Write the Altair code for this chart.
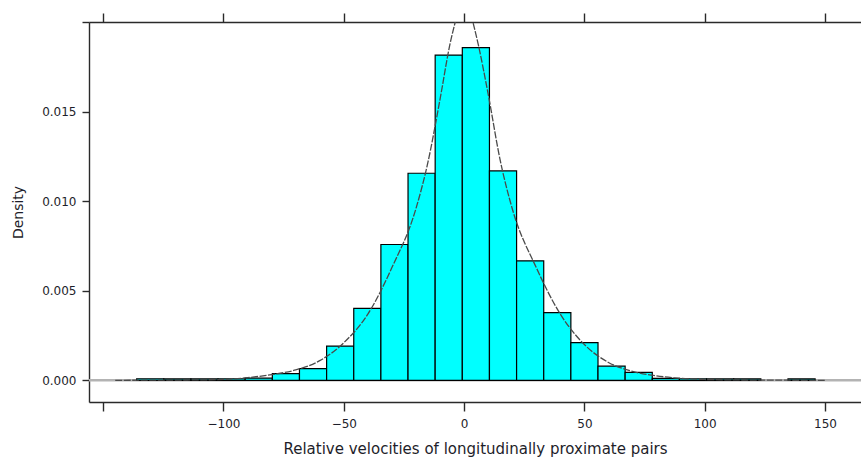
import altair as alt
import pandas as pd

# Histogram (density scale) of relative velocities: equal-width bins
bin_start = -136.1
bin_width = 11.28
bin_density = [
    0.00009, 0.00008, 0.00008, 0.00009, 0.00012,
    0.00037, 0.00066, 0.00191, 0.00402, 0.00759,
    0.01157, 0.01817, 0.01859, 0.01170, 0.00668,
    0.00378, 0.00211, 0.00079, 0.00044, 0.00011,
    0.00009, 0.00008, 0.00008, 0.0, 0.00008,
]

# Smooth density curve overlaid on the histogram
curve_x = [-145, -130, -115, -100, -90, -80, -70, -60, -50, -40, -30, -20,
           -15, -10, -6, -3, 0, 3, 6, 10, 15, 20, 30, 40, 50, 60, 70, 80,
           90, 100, 115, 130, 150]
curve_y = [0.0, 0.00001, 0.00002, 0.00005, 0.00015, 0.00032, 0.00058,
           0.0011, 0.0021, 0.0037, 0.0063, 0.0096, 0.0122, 0.0157, 0.0187,
           0.0204, 0.0222, 0.0204, 0.0187, 0.0160, 0.0123, 0.0096, 0.0063,
           0.0037, 0.0020, 0.0010, 0.0005, 0.00025, 0.00011, 0.00005,
           0.00002, 0.00001, 0.0]

x_ticks = [-150, -100, -50, 0, 50, 100, 150]
y_ticks = [0.0, 0.005, 0.010, 0.015, 0.020]

bars = pd.DataFrame({
    "lo": [bin_start + i * bin_width for i in range(len(bin_density))],
    "hi": [bin_start + (i + 1) * bin_width for i in range(len(bin_density))],
    "density": bin_density,
})
bars = bars[bars["density"] > 0]
curve = pd.DataFrame({"x": curve_x, "y": curve_y})

FONT = "DejaVu Sans"
FRAME = "#2a2a2a"
TEXT = "#1e1e2a"

x_scale = alt.Scale(domain=[-155.9, 164.97], nice=False, zero=False)
y_scale = alt.Scale(domain=[-0.00121, 0.02002], nice=False, zero=False)

axis_common = dict(
    grid=False, domainColor=FRAME, domainWidth=1.4, tickColor=FRAME,
    tickWidth=1.4, labelFont=FONT, labelFontSize=12, labelColor=TEXT,
    titleFont=FONT, titleColor=TEXT, titleFontWeight="normal",
)

bottom_axis = alt.Axis(
    orient="bottom", values=x_ticks, tickSize=9, labelPadding=7,
    labelExpr="datum.value == -150 ? '' : datum.label",
    title="Relative velocities of longitudinally proximate pairs",
    titleFontSize=15, titlePadding=12, **axis_common,
)
top_axis = alt.Axis(
    orient="top", values=x_ticks, tickSize=9, labels=False, title=None,
    **axis_common,
)
left_axis = alt.Axis(
    orient="left", values=y_ticks, tickSize=7, labelPadding=6, format=".3f",
    labelExpr="datum.value > 0.0199 ? '' : datum.label",
    title="Density", titleFontSize=14, titlePadding=16, **axis_common,
)

zero_line = alt.Chart(pd.DataFrame({"y": [0.0]})).mark_rule(
    color="#b3b3b3", strokeWidth=2.5
).encode(y=alt.Y("y:Q", scale=y_scale, axis=left_axis))

hist = alt.Chart(bars).mark_rect(
    fill="#00ffff", stroke="black", strokeWidth=1.2
).encode(
    x=alt.X("lo:Q", scale=x_scale, axis=bottom_axis),
    x2="hi:Q",
    y=alt.Y("density:Q", scale=y_scale, axis=left_axis),
    y2=alt.datum(0),
)

dens = alt.Chart(curve).mark_line(
    clip=True, color="#4a4a4a", strokeWidth=1.3, strokeDash=[7, 1.5],
    interpolate="monotone",
).encode(
    x=alt.X("x:Q", scale=x_scale, axis=top_axis),
    y=alt.Y("y:Q", scale=y_scale, axis=left_axis),
)

chart = alt.layer(zero_line, hist, dens).properties(
    width=772, height=380,
    autosize=alt.AutoSizeParams(type="none"),
    padding={"left": 89, "top": 22, "right": 0, "bottom": 57},
).configure_view(stroke=None).configure(background="white")

chart.save("out.html", embed_options={"renderer": "svg", "actions": False})
